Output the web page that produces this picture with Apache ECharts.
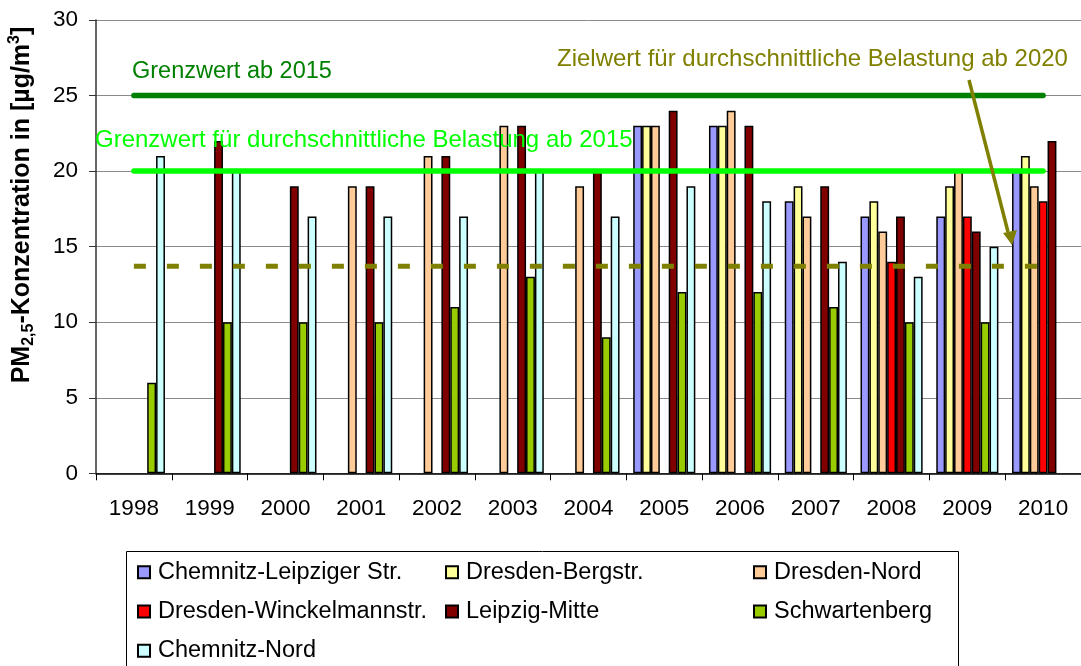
<!DOCTYPE html>
<html>
<head>
    <meta charset="utf-8">
    <title>PM2,5-Konzentration</title>
    <script src="https://cdn.jsdelivr.net/npm/echarts@6/dist/echarts.min.js"></script>
    <style>
        html, body { margin: 0; padding: 0; background: #fff; }
        #chart1 { width: 1081px; height: 666px; }
    </style>
</head>
<body>
<div id="chart1"></div>
<script>
    // Jahre
    var years = ['1998', '1999', '2000', '2001', '2002', '2003', '2004', '2005', '2006', '2007', '2008', '2009', '2010'];
    var yTicks = [0, 5, 10, 15, 20, 25, 30];

    // Messstationen (null = keine Messung)
    var chemnitzLeipziger = [null, null, null, null, null, null, null, 23, 23, 18, 17, 17, 20];
    var dresdenBergstr    = [null, null, null, null, null, null, null, 23, 23, 19, 18, 19, 21];
    var dresdenNord       = [null, null, null, 19, 21, 23, 19, 23, 24, 17, 16, 20, 19];
    var dresdenWinckel    = [null, null, null, null, null, null, null, null, null, null, 14, 17, 18];
    var leipzigMitte      = [null, 22, 19, 19, 21, 23, 20, 24, 23, 19, 17, 16, 22];
    var schwartenberg     = [6, 10, 10, 10, 11, 13, 9, 12, 12, 11, 10, 10, null];
    var chemnitzNord      = [21, 20, 17, 17, 17, 20, 17, 19, 18, 14, 13, 15, null];

    // Grenz- und Zielwerte
    var grenzwert2015     = [25, 25, 25, 25, 25, 25, 25, 25, 25, 25, 25, 25, 25];
    var grenzwertMittel   = [20, 20, 20, 20, 20, 20, 20, 20, 20, 20, 20, 20, 20];
    var zielwert2020      = [13.7, 13.7, 13.7, 13.7, 13.7, 13.7, 13.7, 13.7, 13.7, 13.7, 13.7, 13.7, 13.7];

    var FONT = 'Liberation Sans, Arial, sans-serif';

    function bar(name, color, data) {
        return {
            name: name,
            type: 'bar',
            data: data,
            barGap: '0%',
            barCategoryGap: '18%',
            itemStyle: { color: color, borderColor: '#000', borderWidth: 1.5 }
        };
    }

    function limitLine(name, color, data, dashed) {
        return {
            name: name,
            type: 'line',
            data: data,
            symbol: 'none',
            silent: true,
            z: 5,
            lineStyle: dashed
                ? { color: color, width: 5, type: [12, 21], cap: 'butt' }
                : { color: color, width: 5.5, cap: 'round' }
        };
    }

    var legendText = { color: '#000', fontSize: 23.5, fontFamily: FONT, lineHeight: 23, padding: [0, 0, 0, 3] };

    var chart = echarts.init(document.getElementById('chart1'));
    chart.setOption({
        animation: false,
        grid: { left: 96, top: 20, width: 994, height: 453.3 },
        xAxis: {
            type: 'category',
            data: years,
            axisLine: { lineStyle: { color: '#000', width: 1.5 } },
            axisTick: { show: true, length: 7, lineStyle: { color: '#000' } },
            axisLabel: { color: '#000', fontSize: 22.5, fontFamily: FONT, margin: 24 }
        },
        yAxis: {
            type: 'value',
            min: yTicks[0],
            max: yTicks[yTicks.length - 1],
            interval: 5,
            axisLine: { show: true, lineStyle: { color: '#333', width: 1.5 } },
            axisTick: { show: true, length: 7, lineStyle: { color: '#333' } },
            axisLabel: { color: '#000', fontSize: 22.5, fontFamily: FONT, margin: 18 },
            splitLine: { lineStyle: { color: '#8a8a8a', width: 1 } }
        },
        legend: [
            { data: ['Chemnitz-Leipziger Str.', 'Dresden-Winckelmannstr.', 'Chemnitz-Nord'],
              orient: 'vertical', left: 137, top: 560.2, padding: 0, itemGap: 15.3,
              itemWidth: 12, itemHeight: 12, icon: 'rect', textStyle: legendText, selectedMode: false },
            { data: ['Dresden-Bergstr.', 'Leipzig-Mitte'],
              orient: 'vertical', left: 445, top: 560.2, padding: 0, itemGap: 15.3,
              itemWidth: 12, itemHeight: 12, icon: 'rect', textStyle: legendText, selectedMode: false },
            { data: ['Dresden-Nord', 'Schwartenberg'],
              orient: 'vertical', left: 753, top: 560.2, padding: 0, itemGap: 15.3,
              itemWidth: 12, itemHeight: 12, icon: 'rect', textStyle: legendText, selectedMode: false }
        ],
        series: [
            bar('Chemnitz-Leipziger Str.', '#9999FF', chemnitzLeipziger),
            bar('Dresden-Bergstr.', '#FFFF99', dresdenBergstr),
            bar('Dresden-Nord', '#FFCC99', dresdenNord),
            bar('Dresden-Winckelmannstr.', '#FF0000', dresdenWinckel),
            bar('Leipzig-Mitte', '#800000', leipzigMitte),
            bar('Schwartenberg', '#99CC00', schwartenberg),
            bar('Chemnitz-Nord', '#CCFFFF', chemnitzNord),
            limitLine('Grenzwert ab 2015', '#008000', grenzwert2015, false),
            limitLine('Grenzwert Mittel', '#00FF00', grenzwertMittel, false),
            limitLine('Zielwert 2020', '#808000', zielwert2020, true)
        ],
        graphic: [
            // Legendenrahmen
            { type: 'rect', shape: { x: 126.5, y: 551.5, width: 832, height: 130 },
              style: { fill: 'none', stroke: '#000', lineWidth: 1 }, z: 1 },
            // Achsentitel
            { type: 'text', x: 22, y: 205, rotation: Math.PI / 2, z: 10,
              style: {
                  text: '{n|PM}{sub|2,5}{n|-Konzentration in [µg/m}{sup|3}{n|]}',
                  align: 'center', verticalAlign: 'middle',
                  rich: {
                      n: { fontSize: 25, fontWeight: 'bold', fontFamily: FONT, lineHeight: 30, fill: '#000' },
                      sub: { fontSize: 16, fontWeight: 'bold', fontFamily: FONT, lineHeight: 16, verticalAlign: 'bottom', fill: '#000' },
                      sup: { fontSize: 16, fontWeight: 'bold', fontFamily: FONT, lineHeight: 16, verticalAlign: 'top', fill: '#000' }
                  }
              } },
            // Beschriftungen
            { type: 'text', x: 132, y: 72, z: 20,
              style: { text: 'Grenzwert ab 2015', fill: '#008000', fontSize: 23.5, fontFamily: FONT, verticalAlign: 'middle' } },
            { type: 'text', x: 95, y: 140.5, z: 20,
              style: { text: 'Grenzwert für durchschnittliche Belastung ab 2015', fill: '#00FF00', fontSize: 24, fontFamily: FONT, verticalAlign: 'middle' } },
            { type: 'text', x: 557, y: 59, z: 20,
              style: { text: 'Zielwert für durchschnittliche Belastung ab 2020', fill: '#808000', fontSize: 24, fontFamily: FONT, verticalAlign: 'middle' } },
            // Pfeil
            { type: 'line', z: 20, shape: { x1: 969, y1: 80, x2: 1008, y2: 232 },
              style: { stroke: '#808000', lineWidth: 3.5 } },
            { type: 'polygon', z: 20, shape: { points: [[1012, 245], [1003, 233], [1017, 230]] },
              style: { fill: '#808000' } }
        ]
    });
</script>
</body>
</html>
